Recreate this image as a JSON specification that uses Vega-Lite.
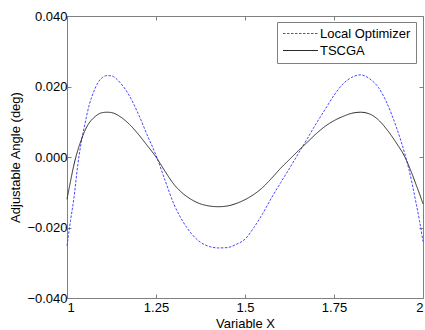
{
  "$schema": "https://vega.github.io/schema/vega-lite/v6.json",
  "width": 356,
  "height": 282,
  "autosize": {"type": "none"},
  "padding": {"left": 67, "top": 16, "right": 2, "bottom": 32},
  "background": "white",
  "config": {
    "view": {"stroke": "#808080", "strokeWidth": 1},
    "font": "Liberation Sans",
    "axis": {"grid": false, "domain": false, "tickColor": "#808080", "tickSize": -4, "labelFont": "Liberation Sans", "labelFontSize": 13, "labelColor": "#000", "titleFont": "Liberation Sans", "titleFontSize": 13, "titleFontWeight": "normal", "titleColor": "#000"},
    "legend": {"orient": "none", "legendX": 210, "legendY": 6, "fillColor": "white", "strokeColor": "#808080", "padding": 5, "labelFont": "Liberation Sans", "labelFontSize": 13, "labelColor": "#000", "labelOffset": 13, "symbolOffset": 12, "rowPadding": 3, "symbolType": "M-3,0H3", "symbolSize": 136, "symbolStrokeWidth": 1}
  },
  "data": {"values": [
    {"x": 1.000, "y": -0.0252, "s": "Local Optimizer"},
    {"x": 1.010, "y": -0.0180, "s": "Local Optimizer"},
    {"x": 1.020, "y": -0.0112, "s": "Local Optimizer"},
    {"x": 1.030, "y": -0.0025, "s": "Local Optimizer"},
    {"x": 1.040, "y": 0.0042, "s": "Local Optimizer"},
    {"x": 1.050, "y": 0.0092, "s": "Local Optimizer"},
    {"x": 1.0625, "y": 0.0148, "s": "Local Optimizer"},
    {"x": 1.075, "y": 0.0185, "s": "Local Optimizer"},
    {"x": 1.0875, "y": 0.0212, "s": "Local Optimizer"},
    {"x": 1.100, "y": 0.0226, "s": "Local Optimizer"},
    {"x": 1.1125, "y": 0.0231, "s": "Local Optimizer"},
    {"x": 1.125, "y": 0.0230, "s": "Local Optimizer"},
    {"x": 1.150, "y": 0.0210, "s": "Local Optimizer"},
    {"x": 1.175, "y": 0.0174, "s": "Local Optimizer"},
    {"x": 1.200, "y": 0.0123, "s": "Local Optimizer"},
    {"x": 1.225, "y": 0.0063, "s": "Local Optimizer"},
    {"x": 1.250, "y": 0.0005, "s": "Local Optimizer"},
    {"x": 1.275, "y": -0.0065, "s": "Local Optimizer"},
    {"x": 1.300, "y": -0.0133, "s": "Local Optimizer"},
    {"x": 1.325, "y": -0.0182, "s": "Local Optimizer"},
    {"x": 1.350, "y": -0.0218, "s": "Local Optimizer"},
    {"x": 1.375, "y": -0.0242, "s": "Local Optimizer"},
    {"x": 1.400, "y": -0.0254, "s": "Local Optimizer"},
    {"x": 1.425, "y": -0.0258, "s": "Local Optimizer"},
    {"x": 1.450, "y": -0.0257, "s": "Local Optimizer"},
    {"x": 1.475, "y": -0.0248, "s": "Local Optimizer"},
    {"x": 1.500, "y": -0.0233, "s": "Local Optimizer"},
    {"x": 1.525, "y": -0.0200, "s": "Local Optimizer"},
    {"x": 1.550, "y": -0.0160, "s": "Local Optimizer"},
    {"x": 1.575, "y": -0.0115, "s": "Local Optimizer"},
    {"x": 1.600, "y": -0.0073, "s": "Local Optimizer"},
    {"x": 1.625, "y": -0.0032, "s": "Local Optimizer"},
    {"x": 1.650, "y": 0.0010, "s": "Local Optimizer"},
    {"x": 1.675, "y": 0.0052, "s": "Local Optimizer"},
    {"x": 1.700, "y": 0.0095, "s": "Local Optimizer"},
    {"x": 1.725, "y": 0.0135, "s": "Local Optimizer"},
    {"x": 1.750, "y": 0.0175, "s": "Local Optimizer"},
    {"x": 1.775, "y": 0.0207, "s": "Local Optimizer"},
    {"x": 1.800, "y": 0.0226, "s": "Local Optimizer"},
    {"x": 1.825, "y": 0.0233, "s": "Local Optimizer"},
    {"x": 1.850, "y": 0.0222, "s": "Local Optimizer"},
    {"x": 1.875, "y": 0.0197, "s": "Local Optimizer"},
    {"x": 1.900, "y": 0.0150, "s": "Local Optimizer"},
    {"x": 1.925, "y": 0.0085, "s": "Local Optimizer"},
    {"x": 1.950, "y": 0.0005, "s": "Local Optimizer"},
    {"x": 1.960, "y": -0.0033, "s": "Local Optimizer"},
    {"x": 1.970, "y": -0.0078, "s": "Local Optimizer"},
    {"x": 1.980, "y": -0.0128, "s": "Local Optimizer"},
    {"x": 1.990, "y": -0.0180, "s": "Local Optimizer"},
    {"x": 2.000, "y": -0.0240, "s": "Local Optimizer"},
    {"x": 1.000, "y": -0.0120, "s": "TSCGA"},
    {"x": 1.010, "y": -0.0068, "s": "TSCGA"},
    {"x": 1.020, "y": -0.0020, "s": "TSCGA"},
    {"x": 1.030, "y": 0.0018, "s": "TSCGA"},
    {"x": 1.040, "y": 0.0048, "s": "TSCGA"},
    {"x": 1.050, "y": 0.0074, "s": "TSCGA"},
    {"x": 1.0625, "y": 0.0097, "s": "TSCGA"},
    {"x": 1.075, "y": 0.0111, "s": "TSCGA"},
    {"x": 1.0875, "y": 0.0121, "s": "TSCGA"},
    {"x": 1.100, "y": 0.0126, "s": "TSCGA"},
    {"x": 1.1125, "y": 0.0127, "s": "TSCGA"},
    {"x": 1.125, "y": 0.0126, "s": "TSCGA"},
    {"x": 1.150, "y": 0.0114, "s": "TSCGA"},
    {"x": 1.175, "y": 0.0093, "s": "TSCGA"},
    {"x": 1.200, "y": 0.0065, "s": "TSCGA"},
    {"x": 1.225, "y": 0.0033, "s": "TSCGA"},
    {"x": 1.250, "y": 0.0000, "s": "TSCGA"},
    {"x": 1.275, "y": -0.0040, "s": "TSCGA"},
    {"x": 1.300, "y": -0.0077, "s": "TSCGA"},
    {"x": 1.325, "y": -0.0103, "s": "TSCGA"},
    {"x": 1.350, "y": -0.0121, "s": "TSCGA"},
    {"x": 1.375, "y": -0.0133, "s": "TSCGA"},
    {"x": 1.400, "y": -0.0139, "s": "TSCGA"},
    {"x": 1.425, "y": -0.0141, "s": "TSCGA"},
    {"x": 1.450, "y": -0.0139, "s": "TSCGA"},
    {"x": 1.475, "y": -0.0132, "s": "TSCGA"},
    {"x": 1.500, "y": -0.0121, "s": "TSCGA"},
    {"x": 1.525, "y": -0.0106, "s": "TSCGA"},
    {"x": 1.550, "y": -0.0086, "s": "TSCGA"},
    {"x": 1.575, "y": -0.0060, "s": "TSCGA"},
    {"x": 1.600, "y": -0.0032, "s": "TSCGA"},
    {"x": 1.625, "y": -0.0007, "s": "TSCGA"},
    {"x": 1.650, "y": 0.0018, "s": "TSCGA"},
    {"x": 1.675, "y": 0.0042, "s": "TSCGA"},
    {"x": 1.700, "y": 0.0066, "s": "TSCGA"},
    {"x": 1.725, "y": 0.0087, "s": "TSCGA"},
    {"x": 1.750, "y": 0.0103, "s": "TSCGA"},
    {"x": 1.775, "y": 0.0115, "s": "TSCGA"},
    {"x": 1.800, "y": 0.0124, "s": "TSCGA"},
    {"x": 1.825, "y": 0.0127, "s": "TSCGA"},
    {"x": 1.850, "y": 0.0122, "s": "TSCGA"},
    {"x": 1.875, "y": 0.0105, "s": "TSCGA"},
    {"x": 1.900, "y": 0.0076, "s": "TSCGA"},
    {"x": 1.925, "y": 0.0040, "s": "TSCGA"},
    {"x": 1.950, "y": -0.0002, "s": "TSCGA"},
    {"x": 1.960, "y": -0.0025, "s": "TSCGA"},
    {"x": 1.970, "y": -0.0050, "s": "TSCGA"},
    {"x": 1.980, "y": -0.0077, "s": "TSCGA"},
    {"x": 1.990, "y": -0.0104, "s": "TSCGA"},
    {"x": 2.000, "y": -0.0133, "s": "TSCGA"}
  ]},
  "layer": [
    {
      "mark": {"type": "line", "interpolate": "monotone", "strokeWidth": 1},
      "encoding": {
        "x": {"field": "x", "type": "quantitative", "scale": {"domain": [1, 2], "nice": false, "zero": false},
              "axis": {"values": [1, 1.25, 1.5, 1.75, 2], "format": ".3~g", "title": "Variable X", "labelBaseline": "top", "labelPadding": 7, "titleX": 178, "titleY": 25, "titleBaseline": "middle"}},
        "y": {"field": "y", "type": "quantitative", "scale": {"domain": [-0.04, 0.04], "nice": false, "zero": false},
              "axis": {"values": [-0.04, -0.02, 0, 0.02, 0.04], "format": ".3f", "title": "Adjustable Angle (deg)", "labelPadding": 4, "titleX": -52, "titleY": 141, "titleBaseline": "middle", "titleAlign": "center", "titleAngle": 270}},
        "color": {"field": "s", "type": "nominal", "title": null, "sort": ["Local Optimizer", "TSCGA"],
                  "scale": {"domain": ["Local Optimizer", "TSCGA"], "range": ["#4646ff", "#2a2a2a"]}},
        "strokeDash": {"field": "s", "type": "nominal", "title": null, "sort": ["Local Optimizer", "TSCGA"],
                  "scale": {"domain": ["Local Optimizer", "TSCGA"], "range": [[2.5, 1.5], [1, 0]]}}
      }
    },
    {
      "mark": {"type": "line", "opacity": 0},
      "encoding": {
        "x": {"field": "x", "type": "quantitative", "scale": {"domain": [1, 2], "nice": false, "zero": false},
              "axis": {"orient": "top", "values": [1, 1.25, 1.5, 1.75, 2], "labels": false, "title": null}},
        "y": {"field": "y", "type": "quantitative", "scale": {"domain": [-0.04, 0.04], "nice": false, "zero": false},
              "axis": {"orient": "right", "values": [-0.04, -0.02, 0, 0.02, 0.04], "labels": false, "title": null}},
        "detail": {"field": "s"}
      }
    }
  ],
  "resolve": {"axis": {"x": "independent", "y": "independent"}}
}
